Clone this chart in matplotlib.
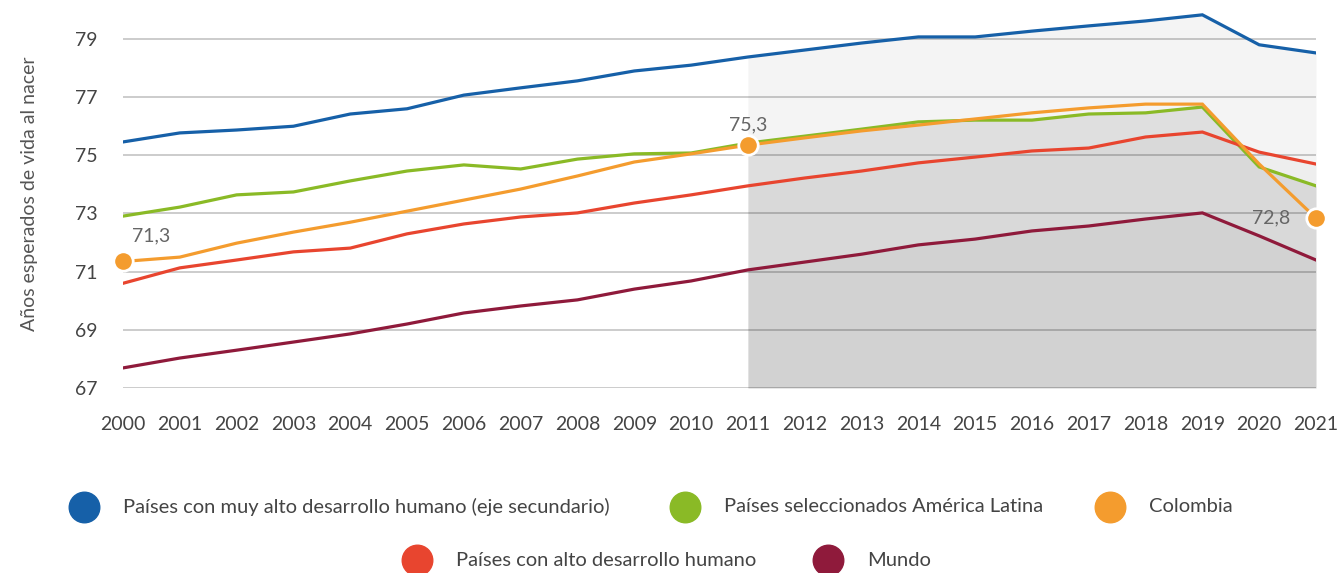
import matplotlib.pyplot as plt
from matplotlib.lines import Line2D

plt.rcParams['font.family'] = ['Lato', 'DejaVu Sans']

years = list(range(2000, 2022))
muy_alto = [75.46, 75.77, 75.87, 76.0, 76.42, 76.6, 77.07, 77.32, 77.56, 77.9, 78.1,
            78.38, 78.62, 78.86, 79.07, 79.07, 79.27, 79.45, 79.62, 79.83, 78.8, 78.52]
america_latina = [72.91, 73.22, 73.64, 73.74, 74.12, 74.46, 74.67, 74.53, 74.87, 75.05, 75.08,
                  75.42, 75.66, 75.9, 76.15, 76.21, 76.21, 76.42, 76.46, 76.66, 74.6, 73.95]
colombia = [71.35, 71.5, 71.98, 72.36, 72.7, 73.08, 73.46, 73.84, 74.29, 74.77, 75.05,
            75.35, 75.6, 75.84, 76.04, 76.25, 76.46, 76.63, 76.76, 76.76, 74.7, 72.84]
alto = [70.6, 71.13, 71.4, 71.68, 71.81, 72.3, 72.64, 72.88, 73.02, 73.36, 73.64,
        73.95, 74.22, 74.46, 74.74, 74.94, 75.15, 75.25, 75.63, 75.8, 75.11, 74.7]
mundo = [67.69, 68.03, 68.3, 68.58, 68.86, 69.2, 69.58, 69.82, 70.03, 70.4, 70.68,
         71.06, 71.33, 71.6, 71.92, 72.12, 72.4, 72.57, 72.81, 73.02, 72.23, 71.4]

labels = ['Países con muy alto desarrollo humano (eje secundario)',
          'Países seleccionados América Latina', 'Colombia',
          'Países con alto desarrollo humano', 'Mundo']
colors = ['#1660a8', '#8aba26', '#f49c2e', '#e8452f', '#8f1a3b']
highlight_years = [2000, 2011, 2021]
yticks = [67, 69, 71, 73, 75, 77, 79]

fig = plt.figure(figsize=(13.43, 5.73), dpi=100)
ax = fig.add_axes([123 / 1343, 185 / 573, 1193 / 1343, 388 / 573])

# shaded period 2011-2021: stacked translucent areas
i0 = years.index(2011)
xs = years[i0:]
for series, a in [(muy_alto, 0.045), (america_latina, 0.082), (alto, 0.024), (mundo, 0.032)]:
    ax.fill_between(xs, 67, series[i0:], color='black', alpha=a, lw=0, zorder=1)

order = [(muy_alto, 0), (america_latina, 1), (alto, 3), (mundo, 4), (colombia, 2)]
for series, k in order:
    ax.plot(years, series, color=colors[k], lw=2.3, zorder=3, solid_joinstyle='miter')

for yr in highlight_years:
    i = years.index(yr)
    ax.plot(yr, colombia[i], 'o', ms=14, color=colors[2], mec='white', mew=2,
            zorder=5, clip_on=False)

ax.text(2000.15, 71.95, '71,3', fontsize=14, color='#666666', ha='left', va='bottom')
ax.text(2011, 75.75, '75,3', fontsize=14, color='#666666', ha='center', va='bottom')
ax.text(2020.55, 72.85, '72,8', fontsize=14, color='#666666', ha='right', va='center')

ax.set_xlim(2000, 2021)
ax.set_ylim(67, 80.34)
ax.set_yticks(yticks)
ax.set_xticks(years)
ax.set_xticklabels([str(y) for y in years])
ax.tick_params(axis='both', length=0, labelsize=14, colors='#444444')
ax.tick_params(axis='y', pad=18)
ax.tick_params(axis='x', pad=20)
ax.grid(axis='y', color='#c8c8c8', lw=1.3, zorder=0)
ax.set_axisbelow(True)
for s in ax.spines.values():
    s.set_visible(False)
ax.set_ylabel('Años esperados de vida al nacer', fontsize=14, color='#555555', labelpad=27)

# legend drawn by hand
legend_pos = [(84, 507), (685, 507), (1110, 507), (417, 560), (828, 560)]
for k, (px, py) in enumerate(legend_pos):
    fx, fy = px / 1343, 1 - py / 573
    fig.add_artist(Line2D([fx], [fy], marker='o', ms=22, color=colors[k], mec=colors[k],
                          transform=fig.transFigure))
    fig.text(fx + 39 / 1343, fy, labels[k], fontsize=14.5, color='#444444', va='center', ha='left')

fig.savefig('out.png', dpi=100)
